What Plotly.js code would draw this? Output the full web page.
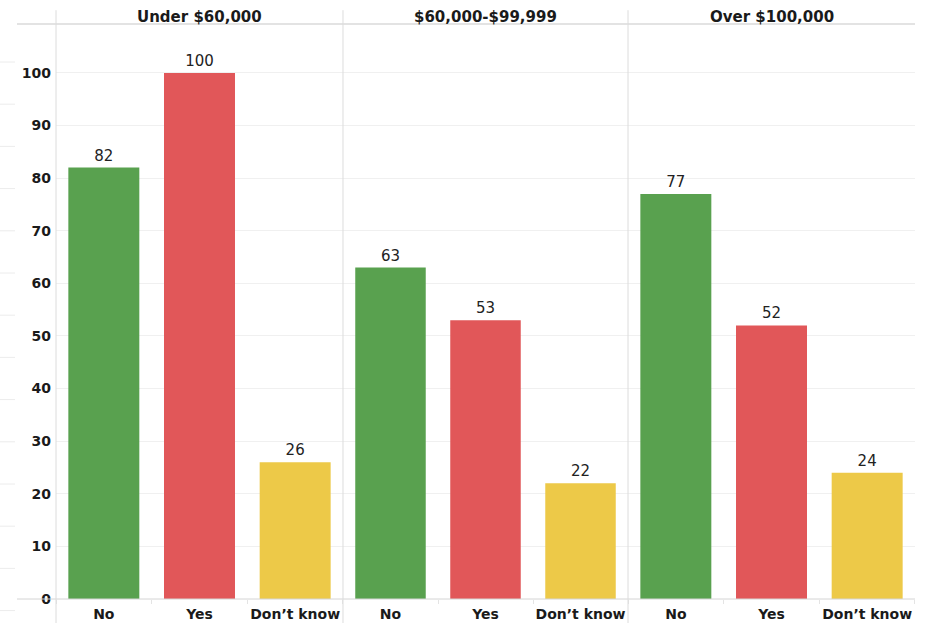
<!DOCTYPE html>
<html>
<head>
<meta charset="utf-8">
<script src="https://cdn.plot.ly/plotly-3.0.1.min.js"></script>
<style>html,body{margin:0;padding:0;background:#fff;}#chart{width:927px;height:623px;}</style>
</head>
<body>
<div id="chart"></div>
<script>
// ---- data ----
var panels = ["Under $60,000", "$60,000-$99,999", "Over $100,000"];
var categories = ["No", "Yes", "Don\u2019t know"];
var underValues = [82, 100, 26];
var middleValues = [63, 53, 22];
var overValues = [77, 52, 24];
var barColors = ["#59A14F", "#E15759", "#EDC948"];
var yTicks = [0, 10, 20, 30, 40, 50, 60, 70, 80, 90, 100];

var seriesValues = [underValues, middleValues, overValues];
var FONT = "'DejaVu Sans', Verdana, sans-serif";
var xNames = ["x", "x2", "x3"];
var domains = [[0, 0.3341], [0.3341, 0.6659], [0.6659, 1]];

var traces = seriesValues.map(function (vals, i) {
  return {
    type: "bar",
    x: categories,
    y: vals,
    xaxis: xNames[i],
    yaxis: "y",
    marker: { color: barColors, line: { width: 0 } },
    text: vals.map(String),
    textposition: "outside",
    cliponaxis: false,
    textfont: { family: FONT, size: 15, color: "#222222" },
    hoverinfo: "x+y",
    showlegend: false
  };
});

var layout = {
  width: 927,
  height: 623,
  margin: { l: 56, r: 12, t: 24, b: 24 },
  paper_bgcolor: "#ffffff",
  plot_bgcolor: "#ffffff",
  bargap: 0.258,
  font: { family: FONT, color: "#1a1a1a" },
  yaxis: {
    range: [0, 109.3],
    tickvals: yTicks,
    showgrid: true,
    gridcolor: "#f0f0f0",
    gridwidth: 1,
    zeroline: false,
    showline: false,
    ticks: "",
    ticklabelstandoff: 4,
    tickfont: { family: FONT, size: 14, weight: "bold", color: "#1a1a1a" },
    fixedrange: true
  },
  annotations: [],
  shapes: []
};

xNames.forEach(function (xn, i) {
  var key = i === 0 ? "xaxis" : "xaxis" + (i + 1);
  layout[key] = {
    domain: domains[i],
    anchor: "y",
    type: "category",
    showgrid: false,
    zeroline: false,
    showline: false,
    ticks: "outside",
    tickson: "boundaries",
    ticklen: 4,
    tickcolor: "#e4e4e4",
    tickwidth: 1,
    tickangle: 0,
    ticklabelstandoff: 5,
    tickfont: { family: FONT, size: 14, weight: "bold", color: "#1a1a1a" },
    fixedrange: true
  };
  layout.annotations.push({
    text: "<b>" + panels[i] + "</b>",
    xref: "paper", yref: "paper",
    x: (domains[i][0] + domains[i][1]) / 2, y: 1,
    xanchor: "center", yanchor: "bottom",
    yshift: -4,
    showarrow: false,
    font: { family: FONT, size: 15, color: "#1a1a1a" }
  });
});

// header line and bottom axis line
layout.shapes.push({ type: "line", xref: "paper", yref: "paper", x0: -0.0454, x1: 1, y0: 1, y1: 1, line: { color: "#e3e3e3", width: 2 } });
layout.shapes.push({ type: "line", xref: "paper", yref: "paper", x0: -0.0454, x1: 1, y0: 0, y1: 0, line: { color: "#d4d4d4", width: 1 } });
// vertical panel separators
[0, 0.3341, 0.6659].forEach(function (px) {
  layout.shapes.push({ type: "line", xref: "paper", yref: "paper", x0: px, x1: px, y0: -0.042, y1: 1.024, line: { color: "#dcdcdc", width: 1 } });
});
// faint row marks in far-left margin
for (var k = 0; k < 14; k++) {
  var py = 62 + k * 42.2;
  var yp = (599 - py) / 575;
  layout.shapes.push({ type: "line", xref: "paper", yref: "paper", x0: -0.0652, x1: -0.0477, y0: yp, y1: yp, line: { color: "#ececec", width: 1 } });
}

Plotly.newPlot("chart", traces, layout, { displayModeBar: false, staticPlot: true });
</script>
</body>
</html>
